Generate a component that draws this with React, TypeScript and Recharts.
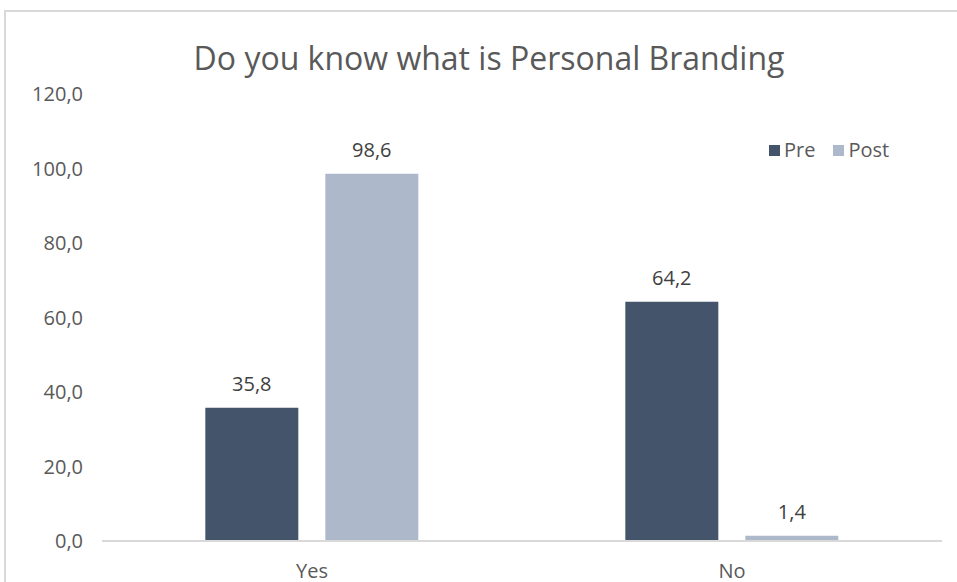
import { BarChart, Bar, XAxis, YAxis, LabelList } from "recharts";

const categories = ["Yes", "No"];
const preValues = [35.8, 64.2];
const postValues = [98.6, 1.4];
const yTicks = [0, 20, 40, 60, 80, 100, 120];

const data = categories.map((name, i) => ({
  name,
  Pre: preValues[i],
  Post: postValues[i],
}));

const PRE_COLOR = "#44546A";
const POST_COLOR = "#ADB9CA";
const TEXT = "#595959";
const FONT = "'Open Sans', 'Noto Sans', sans-serif";

const fmt = (v: number) => v.toFixed(1).replace(".", ",");

export default function App() {
  return (
    <div
      style={{
        position: "absolute",
        left: 0,
        top: 0,
        width: 957,
        height: 582,
        overflow: "hidden",
        background: "#fff",
        fontFamily: FONT,
      }}
    >
      <div
        style={{
          position: "absolute",
          left: 4,
          top: 10,
          width: 1200,
          height: 1200,
          border: "2px solid #D9D9D9",
        }}
      />
      <div
        style={{
          position: "absolute",
          left: 0,
          width: 978,
          top: 36,
          textAlign: "center",
          fontSize: 32,
          color: TEXT,
          lineHeight: "44px",
        }}
      >
        Do you know what is Personal Branding
      </div>
      <div
        style={{
          position: "absolute",
          left: 769,
          top: 136,
          display: "flex",
          alignItems: "center",
          fontSize: 20,
          color: TEXT,
          lineHeight: "28px",
        }}
      >
        <span style={{ width: 11, height: 11, background: PRE_COLOR, marginRight: 4 }} />
        <span style={{ marginRight: 18 }}>Pre</span>
        <span style={{ width: 11, height: 11, background: POST_COLOR, marginRight: 4 }} />
        <span>Post</span>
      </div>
      <div style={{ position: "absolute", left: 0, top: 0 }}>
        <BarChart
          width={957}
          height={582}
          data={data}
          margin={{ top: 94, right: 15, bottom: 6, left: 0 }}
          barCategoryGap="24.6%"
          barGap={27}
        >
          <XAxis
            dataKey="name"
            axisLine={{ stroke: "#D9D9D9", strokeWidth: 2 }}
            tickLine={false}
            tickSize={0}
            tickMargin={23}
            height={35}
            tick={{ fill: TEXT, fontSize: 20, fontFamily: FONT }}
          />
          <YAxis
            width={102}
            domain={[0, 120]}
            ticks={yTicks}
            interval={0}
            axisLine={false}
            tickLine={false}
            tickSize={0}
            tickMargin={19}
            tickFormatter={fmt}
            tick={{ fill: TEXT, fontSize: 20, fontFamily: FONT }}
          />
          <Bar dataKey="Pre" fill={PRE_COLOR} isAnimationActive={false}>
            <LabelList
              dataKey="Pre"
              position="top"
              offset={17}
              formatter={(v: number) => fmt(v)}
              style={{ fill: "#404040", fontSize: 20, fontFamily: FONT }}
            />
          </Bar>
          <Bar dataKey="Post" fill={POST_COLOR} isAnimationActive={false}>
            <LabelList
              dataKey="Post"
              position="top"
              offset={17}
              formatter={(v: number) => fmt(v)}
              style={{ fill: "#404040", fontSize: 20, fontFamily: FONT }}
            />
          </Bar>
        </BarChart>
      </div>
    </div>
  );
}
